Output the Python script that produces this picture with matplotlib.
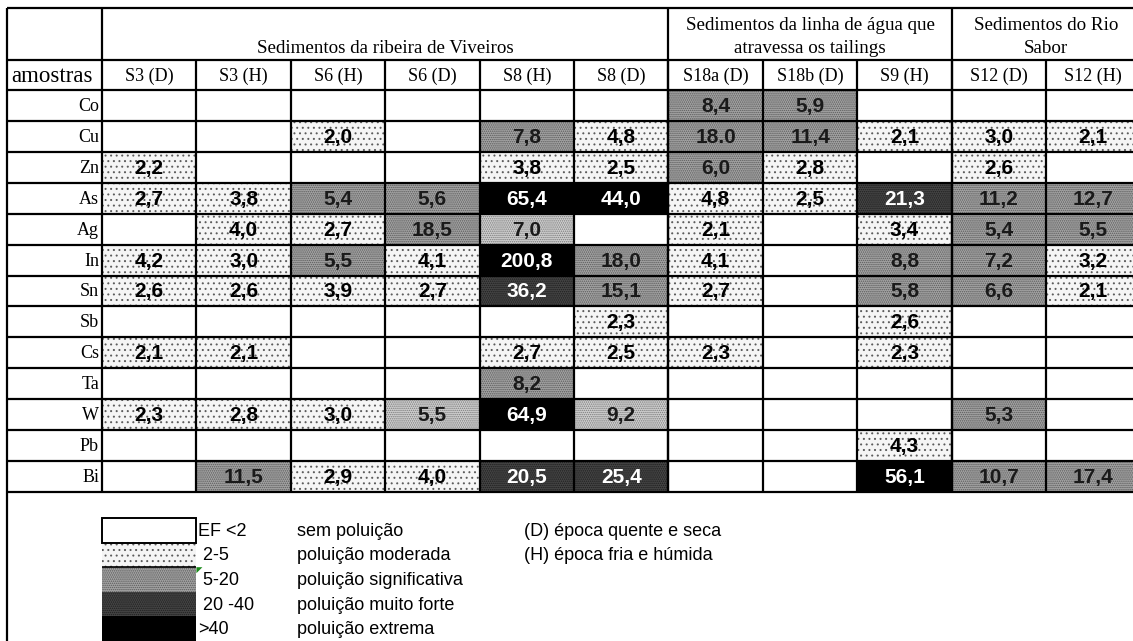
import numpy as np
import matplotlib.pyplot as plt
from matplotlib.patches import Rectangle, Polygon

# dados da tabela (factor de enriquecimento, EF)
amostras = ['S3 (D)', 'S3 (H)', 'S6 (H)', 'S6 (D)', 'S8 (H)', 'S8 (D)',
            'S18a (D)', 'S18b (D)', 'S9 (H)', 'S12 (D)', 'S12 (H)']
elementos = ['Co', 'Cu', 'Zn', 'As', 'Ag', 'In', 'Sn', 'Sb', 'Cs', 'Ta', 'W', 'Pb', 'Bi']
grupos = ['Sedimentos da ribeira de Viveiros',
          'Sedimentos da linha de água que\natravessa os tailings',
          'Sedimentos do Rio\nSabor']
grupo_ncols = [6, 3, 2]

# '' = sem valor
ef = [
    ['', '', '', '', '', '', '8,4', '5,9', '', '', ''],
    ['', '', '2,0', '', '7,8', '4,8', '18.0', '11,4', '2,1', '3,0', '2,1'],
    ['2,2', '', '', '', '3,8', '2,5', '6,0', '2,8', '', '2,6', ''],
    ['2,7', '3,8', '5,4', '5,6', '65,4', '44,0', '4,8', '2,5', '21,3', '11,2', '12,7'],
    ['', '4,0', '2,7', '18,5', '7,0', '', '2,1', '', '3,4', '5,4', '5,5'],
    ['4,2', '3,0', '5,5', '4,1', '200,8', '18,0', '4,1', '', '8,8', '7,2', '3,2'],
    ['2,6', '2,6', '3,9', '2,7', '36,2', '15,1', '2,7', '', '5,8', '6,6', '2,1'],
    ['', '', '', '', '', '2,3', '', '', '2,6', '', ''],
    ['2,1', '2,1', '', '', '2,7', '2,5', '2,3', '', '2,3', '', ''],
    ['', '', '', '', '8,2', '', '', '', '', '', ''],
    ['2,3', '2,8', '3,0', '5,5', '64,9', '9,2', '', '', '', '5,3', ''],
    ['', '', '', '', '', '', '', '', '4,3', '', ''],
    ['', '11,5', '2,9', '4,0', '20,5', '25,4', '', '', '56,1', '10,7', '17,4'],
]
# celulas 5-20 que estao com um padrao mais claro no original
claras = [('Ag', 'S8 (H)'), ('W', 'S6 (D)'), ('W', 'S8 (D)')]

limites = [2, 5, 20, 40]
classes = ['EF <2', ' 2-5', ' 5-20', ' 20 -40', '>40']
descricao = ['sem poluição', 'poluição moderada', 'poluição significativa',
             'poluição muito forte', 'poluição extrema']
epocas = ['(D) época quente e seca', '(H) época fria e húmida']

# estilos: (cor de fundo, hatch, cor do hatch, cor do texto)
estilos = [('white', None, None, 'black'),
           ('#f5f5f5', '...', '#5c5c5c', 'black'),
           ('#a4a4a4', '........', '#5a5a5a', '#1a1a1a'),
           ('#454545', '........', '#1e1e1e', 'white'),
           ('black', None, None, 'white')]
estilo_claro = ('#d0d0d0', '........', '#7a7a7a', '#1a1a1a')

SERIF = 'Liberation Serif'
SANS = 'Liberation Sans'

# geometria em pixeis
x0, x_tab = 7, 102
col_w = (1140.5 - x_tab) / len(amostras)
y0, y_grp, y_hdr = 8, 60, 90
row_h = (492 - y_hdr) / len(elementos)
x_fim = x_tab + col_w * len(amostras)
y_fim = y_hdr + row_h * len(elementos)


def classe(txt):
    v = float(txt.replace(',', '.'))
    return int(np.searchsorted(limites, v, side='right'))


def celula(ax, x, y, w, h, est):
    fc, hatch, hc, _ = est
    ax.add_patch(Rectangle((x, y), w, h, facecolor=fc, edgecolor='none', zorder=1))
    if hatch:
        ax.add_patch(Rectangle((x, y), w, h, fill=False, hatch=hatch,
                               edgecolor=hc, linewidth=0, zorder=1.5))


def main():
    plt.rcParams['hatch.linewidth'] = 0.7
    fig = plt.figure(figsize=(11.33, 6.41), dpi=100)
    ax = fig.add_axes([0, 0, 1, 1])
    ax.set_xlim(0, 1133)
    ax.set_ylim(641, 0)
    ax.axis('off')

    # celulas com valores
    for i, el in enumerate(elementos):
        yc = y_hdr + i * row_h
        ax.text(x_tab - 3, yc + row_h / 2 + 1, el, ha='right', va='center',
                fontsize=13, family=SERIF)
        for j, am in enumerate(amostras):
            txt = ef[i][j]
            if not txt:
                continue
            est = estilos[classe(txt)]
            if (el, am) in claras:
                est = estilo_claro
            xc = x_tab + j * col_w
            celula(ax, xc, yc, col_w, row_h, est)
            ax.text(xc + col_w / 2, yc + row_h / 2 + 1, txt, ha='center', va='center',
                    fontsize=15, fontweight='bold', family=SANS, color=est[3], zorder=3)

    # cabecalhos
    ax.text(x0 + 4, (y_grp + y_hdr) / 2 + 1, 'amostras', ha='left', va='center',
            fontsize=16.5, family=SERIF)
    for j, am in enumerate(amostras):
        ax.text(x_tab + (j + 0.5) * col_w, (y_grp + y_hdr) / 2 + 1, am,
                ha='center', va='center', fontsize=13, family=SERIF)
    inicio = 0
    lim_grupos = []
    for g, n in zip(grupos, grupo_ncols):
        xa = x_tab + inicio * col_w
        xb = x_tab + (inicio + n) * col_w
        ax.text((xa + xb) / 2, y_grp - 3, g, ha='center', va='bottom', ma='center',
                fontsize=13.7, family=SERIF, linespacing=1.45)
        lim_grupos.append(xa)
        inicio += n

    # linhas da grelha
    lw = 1.6
    ax.hlines([y0, y_grp, y_hdr], x0, x_fim, colors='black', lw=lw, zorder=4)
    ax.hlines([y_hdr + k * row_h for k in range(1, len(elementos) + 1)], x0, x_fim,
              colors='black', lw=lw, zorder=4)
    ax.vlines(x0, y0, 660, colors='black', lw=lw, zorder=4)
    ax.vlines(x_fim, y0, 660, colors='black', lw=lw, zorder=4)
    ax.vlines(lim_grupos, y0, y_fim, colors='black', lw=lw, zorder=4)
    ax.vlines([x_tab + j * col_w for j in range(1, len(amostras))], y_grp, y_fim,
              colors='black', lw=lw, zorder=4)

    # legenda
    ly, lh = 518, 24.6
    for k, (c, d) in enumerate(zip(classes, descricao)):
        yk = ly + k * lh
        celula(ax, x_tab, yk, col_w, lh, estilos[k])
        ax.text(x_tab + col_w + 2, yk + lh / 2 + 1, c, ha='left', va='center',
                fontsize=13, family=SANS)
        ax.text(297, yk + lh / 2 + 1, d, ha='left', va='center',
                fontsize=13, family=SANS)
    ax.add_patch(Rectangle((x_tab, ly), col_w, lh, fill=False, edgecolor='black',
                           lw=1.4, zorder=4))
    ax.hlines(ly + 2 * lh, x_tab, x_tab + col_w, colors='black', lw=1.2, zorder=4)
    # marca verde de comentario do excel
    ax.add_patch(Polygon([(x_tab + col_w, ly + 2 * lh), (x_tab + col_w + 6, ly + 2 * lh),
                          (x_tab + col_w, ly + 2 * lh + 6)], closed=True,
                         facecolor='#1a8a1a', edgecolor='none', zorder=5))
    for k, e in enumerate(epocas):
        ax.text(524, ly + k * lh + lh / 2 + 1, e, ha='left', va='center',
                fontsize=13, family=SANS)

    fig.savefig('out.png', dpi=100, facecolor='white')


if __name__ == "__main__":
    main()
